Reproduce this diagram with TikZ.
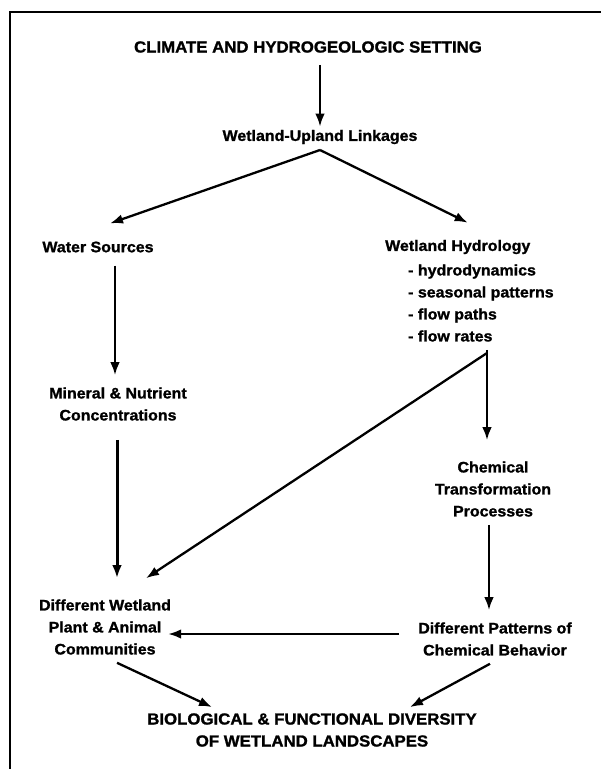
\documentclass[tikz,border=0pt]{standalone}
\usepackage{fontspec}
\setmainfont{Liberation Sans}[FakeStretch=1.05, BoldFeatures={FakeBold=1.3}]
\usetikzlibrary{arrows.meta,calc}
\tikzset{
  lbl/.style={font=\bfseries\fontsize{15.2}{22}\selectfont, inner sep=0pt, align=center},
  caps/.style={font=\bfseries\fontsize{16.0}{22}\selectfont, inner sep=0pt, align=center},
  arr/.style={line width=2.3pt, -{Latex[length=13pt,width=9.5pt]}},
  plain/.style={line width=2.3pt},
}
\begin{document}
\begin{tikzpicture}[x=1pt,y=-1pt]
\useasboundingbox (0,0) rectangle (601,769);
\fill[white] (0,0) rectangle (601,769);
\draw[line width=2.6pt] (601,12) -- (10,12) -- (10,769);

\node[caps] (title) at (308,47) {CLIMATE AND HYDROGEOLOGIC SETTING};
\node[lbl] (wul) at (320,137) {Wetland-Upland Linkages};
\coordinate (apex) at (320,150);
\node[lbl] (ws) at (98,247) {Water Sources};
\node[lbl, anchor=west] (wh) at (385,247) {Wetland Hydrology};
\node[lbl, anchor=west, align=left] (whl) at (408,303) {- hydrodynamics\\- seasonal patterns\\- flow paths\\- flow rates};
\coordinate (br) at (487,353);
\node[lbl] (mnc) at (118,404) {Mineral \& Nutrient\\Concentrations};
\node[lbl] (ctp) at (493,489) {Chemical\\Transformation\\Processes};
\node[lbl] (dwp) at (105,627) {Different Wetland\\Plant \& Animal\\Communities};
\node[lbl] (dpc) at (495,639) {Different Patterns of\\Chemical Behavior};
\node[caps] (bio) at (312,730) {BIOLOGICAL \& FUNCTIONAL DIVERSITY\\OF WETLAND LANDSCAPES};

\draw[arr] ($(title.south -| wul.north)+(0,12)$) -- ($(wul.north)+(0,-3)$);
\draw[plain] ($(wul.south)+(0,6)$) -- (apex);
\draw[arr] (apex) -- ($(ws.north)+(12,-18)$);
\draw[arr] (apex) -- ($(wh.north)+(10,-17)$);
\draw[arr] ($(ws.south)+(17,13)$) -- ($(mnc.north)+(-3,-12)$);
\draw[arr, line width=3pt] ($(mnc.south)+(-1,19)$) -- ($(dwp.north)+(12,-21)$);
\draw[plain] ($(whl.south west)+(79,8)$) -- (br);
\draw[arr] (br) -- ($(ctp.north)+(-6,-21)$);
\draw[arr] (br) -- ($(dwp.north)+(41,-21)$);
\draw[arr] ($(ctp.south)+(-4,8)$) -- ($(dpc.north)+(-6,-12)$);
\draw[arr] ($(dpc.west)+(-19,-5)$) -- ($(dwp.east)+(-3,7)$);
\draw[arr] ($(dwp.south)+(12,8)$) -- ($(bio.north)+(-100,-6)$);
\draw[arr] ($(dpc.south)+(-5,8)$) -- ($(bio.north)+(98,-6)$);
\end{tikzpicture}
\end{document}
